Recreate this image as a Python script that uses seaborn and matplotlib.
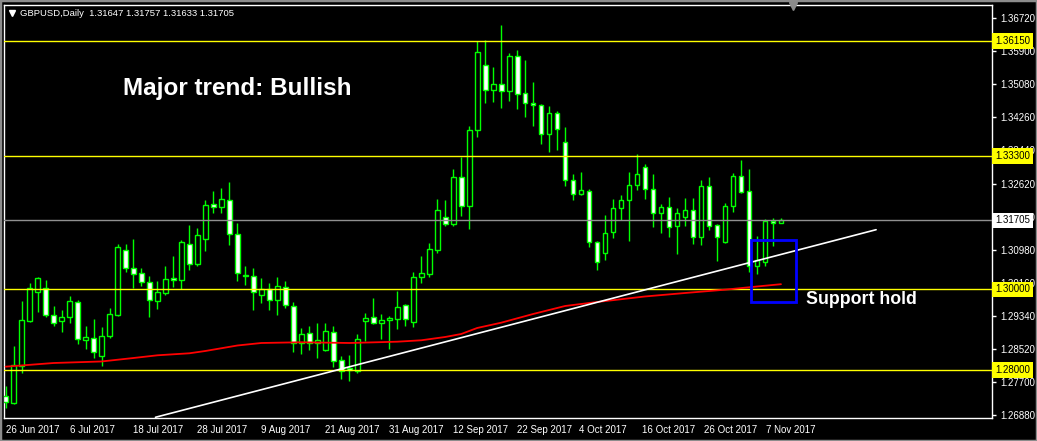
import matplotlib
matplotlib.use("Agg")
import matplotlib.pyplot as plt
import matplotlib.transforms as mtransforms
from matplotlib.patches import Rectangle
import numpy as np
import pandas as pd
import seaborn as sns

# Daily GBPUSD candles, 26 Jun 2017 .. 9 Nov 2017
opens = [
    1.27356, 1.27190, 1.28107, 1.29207, 1.29926, 1.30025, 1.29371, 1.29207, 1.29306, 1.29678,
    1.28736, 1.28786, 1.28354, 1.28835, 1.29371, 1.30967, 1.30520, 1.30397, 1.30188, 1.29703,
    1.29901, 1.30273, 1.30223, 1.31115, 1.30615, 1.31239, 1.32107, 1.32032, 1.32206, 1.31363,
    1.30347, 1.30322, 1.29866, 1.30000, 1.29742, 1.30050, 1.29579, 1.28677, 1.28910, 1.28662,
    1.28503, 1.28934, 1.28240, 1.28042, 1.27983, 1.29222, 1.29306, 1.29157, 1.29227, 1.29271,
    1.29603, 1.29197, 1.30297, 1.30387, 1.30981, 1.31784, 1.31611, 1.32791, 1.32057, 1.33941,
    1.35551, 1.34932, 1.35081, 1.34907, 1.35774, 1.34858, 1.34610, 1.34560, 1.33841, 1.34362,
    1.33643, 1.32701, 1.32354, 1.32424, 1.31165, 1.30892, 1.31413, 1.32007, 1.32206, 1.32577,
    1.33024, 1.32478, 1.31884, 1.32032, 1.31561, 1.31784, 1.31958, 1.31289, 1.32553, 1.31586,
    1.31165, 1.32057, 1.32800, 1.32429, 1.30570, 1.30669, 1.31685, 1.31647,
]
highs = [
    1.27603, 1.28595, 1.29710, 1.30156, 1.30312, 1.30223, 1.29579, 1.29480, 1.29827, 1.29735,
    1.29083, 1.29264, 1.29058, 1.29529, 1.31123, 1.31123, 1.31247, 1.30528, 1.30330, 1.30198,
    1.30577, 1.30825, 1.31222, 1.31586, 1.31519, 1.32213, 1.32436, 1.32503, 1.32659, 1.31636,
    1.30577, 1.30528, 1.30280, 1.30156, 1.30305, 1.30206, 1.29678, 1.29033, 1.29083, 1.29165,
    1.29165, 1.29083, 1.28340, 1.28379, 1.28900, 1.29413, 1.29784, 1.29388, 1.29338, 1.29950,
    1.29643, 1.30421, 1.30825, 1.31140, 1.32238, 1.32206, 1.32981, 1.33271, 1.34047, 1.36154,
    1.36178, 1.35509, 1.36550, 1.35849, 1.35931, 1.35675, 1.35130, 1.34585, 1.34535, 1.34411,
    1.34015, 1.32850, 1.32900, 1.32478, 1.31204, 1.31841, 1.32230, 1.32330, 1.32900, 1.33346,
    1.33098, 1.32850, 1.32107, 1.32280, 1.32007, 1.32255, 1.32255, 1.32701, 1.32776, 1.31611,
    1.32131, 1.32875, 1.33197, 1.32974, 1.31313, 1.31735, 1.31760, 1.31757,
]
lows = [
    1.27058, 1.27157, 1.27933, 1.29200, 1.29445, 1.29306, 1.29098, 1.28934, 1.29172, 1.28652,
    1.28520, 1.28305, 1.28107, 1.28801, 1.29338, 1.30436, 1.30040, 1.30089, 1.29321, 1.29519,
    1.29866, 1.30064, 1.30000, 1.30486, 1.30585, 1.30957, 1.31884, 1.31898, 1.31098, 1.30213,
    1.30114, 1.29494, 1.29668, 1.29494, 1.29371, 1.29544, 1.28454, 1.28404, 1.28503, 1.28305,
    1.28478, 1.28082, 1.27784, 1.27735, 1.27933, 1.28726, 1.29133, 1.28776, 1.28508, 1.29016,
    1.29098, 1.29073, 1.30164, 1.30312, 1.30907, 1.31576, 1.31576, 1.31824, 1.31502, 1.33782,
    1.34625, 1.34649, 1.34501, 1.34674, 1.34476, 1.34278, 1.34055, 1.33608, 1.33410, 1.33460,
    1.32553, 1.32206, 1.32330, 1.31056, 1.30486, 1.30734, 1.31279, 1.31725, 1.31185, 1.32449,
    1.32230, 1.31537, 1.31388, 1.31304, 1.30867, 1.31561, 1.31115, 1.31090, 1.31462, 1.30694,
    1.31152, 1.31908, 1.32379, 1.30421, 1.30372, 1.30570, 1.31066, 1.31633,
]
closes = [
    1.27207, 1.28117, 1.29232, 1.30025, 1.30273, 1.29371, 1.29157, 1.29306, 1.29703, 1.28761,
    1.28810, 1.28439, 1.28835, 1.29380, 1.31041, 1.30520, 1.30372, 1.30188, 1.29727, 1.29926,
    1.30263, 1.30223, 1.31165, 1.30620, 1.31338, 1.32082, 1.32032, 1.32230, 1.31363, 1.30397,
    1.30322, 1.29926, 1.30000, 1.29742, 1.30074, 1.29618, 1.28662, 1.28885, 1.28662, 1.28736,
    1.28959, 1.28216, 1.27968, 1.28000, 1.28761, 1.29296, 1.29157, 1.29232, 1.29284, 1.29554,
    1.29271, 1.30297, 1.30397, 1.30991, 1.31958, 1.31611, 1.32791, 1.32057, 1.33941, 1.35874,
    1.34932, 1.35081, 1.34907, 1.35774, 1.34833, 1.34610, 1.34560, 1.33841, 1.34362, 1.33965,
    1.32701, 1.32354, 1.32454, 1.31165, 1.30669, 1.31388, 1.32007, 1.32206, 1.32577, 1.32850,
    1.32478, 1.31884, 1.32032, 1.31537, 1.31884, 1.31958, 1.31289, 1.32553, 1.31561, 1.31289,
    1.32057, 1.32800, 1.32404, 1.30570, 1.30719, 1.31685, 1.31636, 1.31705,
]

# moving average (red), sampled along the line: bar index -> price
ma_bar = [0, 6, 12, 16, 19, 23, 25, 29, 32, 37, 43, 49, 52, 55, 57, 59, 62, 66, 70, 74, 80, 85, 90, 94, 97]
ma_val = [1.28082, 1.28173, 1.28211, 1.28297, 1.28364, 1.28414, 1.28471, 1.28607, 1.28669, 1.28687,
          1.28669, 1.28701, 1.28736, 1.28818, 1.28892, 1.29041, 1.29172, 1.29388, 1.29586, 1.29685,
          1.29822, 1.29908, 1.29990, 1.30069, 1.30126]

# trend line anchors (bar index, price)
trend_bar = [18.75, 108.9]
trend_val = [1.26828, 1.31477]

levels = [1.36150, 1.33300, 1.30000, 1.28000]
bid = 1.31705

# support box (bar index range, price range)
box_bars = [93.25, 98.9]
box_prices = [1.29685, 1.31222]

date_labels = ["26 Jun 2017", "6 Jul 2017", "18 Jul 2017", "28 Jul 2017", "9 Aug 2017",
               "21 Aug 2017", "31 Aug 2017", "12 Sep 2017", "22 Sep 2017", "4 Oct 2017",
               "16 Oct 2017", "26 Oct 2017", "7 Nov 2017"]
date_pos = [0, 8, 16, 24, 32, 40, 48, 56, 64, 71.75, 79.6, 87.4, 95.1]
price_ticks = [1.26880 + 0.0082 * k for k in range(13)]

LIME = "#00ff00"

sns.set_theme(style="dark", rc={
    "axes.facecolor": "black", "figure.facecolor": "black",
    "axes.edgecolor": "white", "text.color": "white",
    "xtick.color": "white", "ytick.color": "white",
    "axes.grid": False,
})
plt.rcParams["font.family"] = ["Liberation Sans", "DejaVu Sans"]

df = pd.DataFrame({"open": opens, "high": highs, "low": lows, "close": closes})
df["bar"] = np.arange(len(df))
df["bottom"] = df[["open", "close"]].min(axis=1)
df["height"] = (df["close"] - df["open"]).abs().clip(lower=0.00002)
df["fill"] = np.where(df["close"] < df["open"], "white", "black")

fig = plt.figure(figsize=(10.37, 4.41), dpi=100)
ax = fig.add_axes([4 / 1037, 23 / 441, 988 / 1037, 413.5 / 441])

# candles
ax.vlines(df["bar"], df["low"], df["high"], color=LIME, lw=1, zorder=2)
ax.bar(df["bar"], df["height"], bottom=df["bottom"], width=0.58,
       color=df["fill"], edgecolor=LIME, linewidth=1, zorder=3)

# horizontal levels and current bid
for lv in levels:
    ax.axhline(lv, color="#ffff00", lw=1, zorder=4)
ax.axhline(bid, color="#909090", lw=1, zorder=4)

# moving average and trend line
sns.lineplot(x=ma_bar, y=ma_val, color="#ff0000", lw=1.3, ax=ax, zorder=5)
sns.lineplot(x=trend_bar, y=trend_val, color="white", lw=1.2, ax=ax, zorder=5)

ax.add_patch(Rectangle((box_bars[0], box_prices[0]), box_bars[1] - box_bars[0],
                       box_prices[1] - box_prices[0], fill=False,
                       edgecolor="#0000ff", lw=2, zorder=6))

ax.set_xlim(-0.2, 123.4)
ax.set_ylim(1.26810, 1.37058)

# axes styling
for sp in ax.spines.values():
    sp.set_color("white")
    sp.set_linewidth(1)
ax.yaxis.tick_right()
ax.set_yticks(price_ticks)
ax.set_yticklabels([f"{p:.5f}" for p in price_ticks])
ax.set_xticks(date_pos)
ax.set_xticklabels(date_labels, ha="left")
ax.tick_params(axis="both", direction="out", length=3, width=1, labelsize=7,
               colors="white", pad=2)
ax.tick_params(axis="y", pad=3)
ax.set_xlabel("")
ax.set_ylabel("")

# price tags on the right axis
tr = mtransforms.blended_transform_factory(ax.transAxes, ax.transData)
for lv in levels:
    ax.text(1.003, lv, f"{lv:.5f}", transform=tr, fontsize=7, color="black",
            va="center", ha="left", clip_on=False, zorder=10,
            bbox=dict(boxstyle="square,pad=0.28", fc="#ffff00", ec="none"))
ax.text(1.003, bid, f"{bid:.5f}", transform=tr, fontsize=7, color="black",
        va="center", ha="left", clip_on=False, zorder=10,
        bbox=dict(boxstyle="square,pad=0.28", fc="white", ec="none"))

# annotations
fig.text(123 / 1037, 1 - 89 / 441, "Major trend: Bullish", color="white",
         fontsize=17.5, fontweight="bold", va="center", ha="left")
fig.text(806 / 1037, 1 - 300 / 441, "Support hold", color="white",
         fontsize=12.8, fontweight="bold", va="center", ha="left")

# header
fig.text(20 / 1037, 1 - 13 / 441, "GBPUSD,Daily  1.31647 1.31757 1.31633 1.31705",
         color="white", fontsize=6.8, va="center", ha="left")
fig.lines.append(plt.Line2D([12 / 1037], [1 - 12.5 / 441], marker="v", markersize=4.5,
                            color="white", transform=fig.transFigure))
fig.lines.append(plt.Line2D([793 / 1037], [1 - 6 / 441], marker="v", markersize=6,
                            color="#8a8a8a", transform=fig.transFigure))

# window frame
fig.patches.append(Rectangle((0, 0), 1, 1, transform=fig.transFigure, fill=False,
                             edgecolor="#8c8c8c", lw=2.5))

fig.savefig("out.png", dpi=100, facecolor="black")
